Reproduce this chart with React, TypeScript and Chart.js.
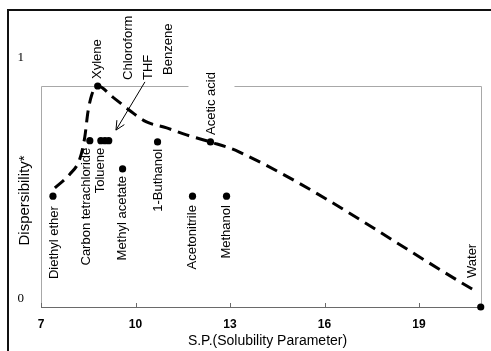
import React, { useEffect, useRef } from 'react';
import { Chart, registerables } from 'chart.js';

Chart.register(...registerables);

// ---- data ----
const SOLVENTS = [
  'Diethyl ether',
  'Carbon tetrachloride',
  'Xylene',
  'Toluene',
  'Chloroform',
  'THF',
  'Methyl acetate',
  '1-Buthanol',
  'Acetonitrile',
  'Acetic acid',
  'Methanol',
  'Water',
];
const SP_VALUES = [7.38, 8.55, 8.8, 8.9, 9.03, 9.15, 9.59, 10.7, 11.81, 12.38, 12.89, 20.96];
const DISPERSIBILITY = [0.46, 0.69, 0.917, 0.69, 0.69, 0.69, 0.573, 0.685, 0.46, 0.685, 0.46, 0];

// hand-drawn trend curve
const TREND_SP = [7.44, 7.92, 8.23, 8.39, 8.49, 8.61, 8.8, 9.28, 9.88, 10.35, 10.99, 11.62, 12.38, 13.3, 20.73];
const TREND_DISP = [0.494, 0.552, 0.614, 0.705, 0.809, 0.88, 0.917, 0.871, 0.809, 0.768, 0.743, 0.714, 0.685, 0.643, 0.071];

const X_TICKS = [7, 10, 13, 16, 19];
const Y_TICKS = [0, 1];
const X_TITLE = 'S.P.(Solubility Parameter)';
const Y_TITLE = 'Dispersibility*';
const ARROW_LABELS = ['Chloroform', 'THF', 'Benzene'];

// ---- styling / annotation placement ----
const SANS = '"Liberation Sans", Arial, sans-serif';
const SERIF = '"Liberation Serif", "Times New Roman", serif';
const LABEL_FONT = `13px ${SANS}`;
const FRAME_TOP = 0.917;

type Place = { pos: 'above' | 'below' | 'none'; dx?: number; dy?: number; box?: boolean };
const PLACEMENT: Record<string, Place> = {
  'Diethyl ether': { pos: 'below', dx: 1, dy: 3 },
  'Carbon tetrachloride': { pos: 'below', dx: -3 },
  Xylene: { pos: 'above', dx: 0 },
  Toluene: { pos: 'below', dx: 0 },
  Chloroform: { pos: 'none' },
  THF: { pos: 'none' },
  'Methyl acetate': { pos: 'below', dx: 0 },
  '1-Buthanol': { pos: 'below', dx: 1 },
  Acetonitrile: { pos: 'below', dx: 0, dy: 2 },
  'Acetic acid': { pos: 'above', dx: 1, box: true },
  Methanol: { pos: 'below', dx: 0, dy: 2 },
  Water: { pos: 'above', dx: -8, dy: -22 },
};
// arrow annotation anchors (data units)
const ARROW_LABEL_POS = [
  { x: 9.76, y: 0.942 },
  { x: 10.4, y: 0.942 },
  { x: 11.03, y: 0.963 },
];
const ARROW_FROM = { x: 10.3, y: 0.934 };
const ARROW_TO = { x: 9.38, y: 0.734 };

const GAP = 7;

function drawVText(ctx: CanvasRenderingContext2D, text: string, x: number, y: number, align: CanvasTextAlign) {
  ctx.save();
  ctx.translate(x, y);
  ctx.rotate(-Math.PI / 2);
  ctx.textAlign = align;
  ctx.textBaseline = 'middle';
  ctx.fillText(text, 0, 0);
  ctx.restore();
}

const framePlugin = {
  id: 'frameAndLabels',
  beforeDatasetsDraw(chart: any) {
    const { ctx, chartArea: ca, scales } = chart;
    const x = scales.x;
    const y = scales.y;
    ctx.save();
    // outer picture frame
    ctx.fillStyle = '#111';
    ctx.fillRect(7, 9, 2, chart.height - 9);
    ctx.fillRect(7, 9, chart.width - 7, 2);

    // gray plot frame
    const top = Math.round(y.getPixelForValue(FRAME_TOP)) + 0.5;
    ctx.strokeStyle = '#a8a8a8';
    ctx.lineWidth = 1;
    ctx.beginPath();
    ctx.moveTo(ca.left + 0.5, ca.bottom);
    ctx.lineTo(ca.left + 0.5, top);
    ctx.lineTo(ca.right - 0.5, top);
    ctx.lineTo(ca.right - 0.5, ca.bottom);
    ctx.stroke();

    // x axis line + inward tick marks
    ctx.strokeStyle = '#6a6a6a';
    ctx.beginPath();
    ctx.moveTo(ca.left, Math.round(ca.bottom) + 0.5);
    ctx.lineTo(ca.right, Math.round(ca.bottom) + 0.5);
    x.ticks.forEach((t: any) => {
      const px = Math.round(x.getPixelForValue(t.value)) + 0.5;
      ctx.moveTo(px, ca.bottom);
      ctx.lineTo(px, ca.bottom - 4);
    });
    ctx.stroke();

    // white text boxes behind boxed labels
    ctx.font = LABEL_FONT;
    SOLVENTS.forEach((name, i) => {
      const p = PLACEMENT[name];
      if (!p || !p.box) return;
      const px = x.getPixelForValue(SP_VALUES[i]) + (p.dx || 0);
      const py = y.getPixelForValue(DISPERSIBILITY[i]) + (p.dy || 0);
      const w = ctx.measureText(name).width;
      ctx.fillStyle = '#fff';
      ctx.fillRect(px - 23, py - GAP - w - 6, 46, w + 10);
    });
    ctx.restore();
  },
  afterDatasetsDraw(chart: any) {
    const { ctx, chartArea: ca, scales } = chart;
    const x = scales.x;
    const y = scales.y;
    ctx.save();
    ctx.fillStyle = '#000';
    ctx.font = LABEL_FONT;
    SOLVENTS.forEach((name, i) => {
      const p = PLACEMENT[name];
      if (!p || p.pos === 'none') return;
      const px = x.getPixelForValue(SP_VALUES[i]) + (p.dx || 0);
      const py = y.getPixelForValue(DISPERSIBILITY[i]) + (p.dy || 0);
      if (p.pos === 'below') drawVText(ctx, name, px, py + GAP, 'right');
      else drawVText(ctx, name, px, py - GAP, 'left');
    });
    // arrow annotation
    ARROW_LABELS.forEach((t, i) => {
      const a = ARROW_LABEL_POS[i];
      drawVText(ctx, t, x.getPixelForValue(a.x), y.getPixelForValue(a.y), 'left');
    });
    const x1 = x.getPixelForValue(ARROW_FROM.x);
    const y1 = y.getPixelForValue(ARROW_FROM.y);
    const x2 = x.getPixelForValue(ARROW_TO.x);
    const y2 = y.getPixelForValue(ARROW_TO.y);
    const ang = Math.atan2(y2 - y1, x2 - x1);
    ctx.strokeStyle = '#000';
    ctx.lineWidth = 1;
    ctx.beginPath();
    ctx.moveTo(x1, y1);
    ctx.lineTo(x2, y2);
    const hl = 10;
    for (const s of [-1, 1]) {
      ctx.moveTo(x2, y2);
      ctx.lineTo(x2 - hl * Math.cos(ang + s * 0.45), y2 - hl * Math.sin(ang + s * 0.45));
    }
    ctx.stroke();

    // axis titles
    ctx.font = `14px ${SANS}`;
    ctx.textAlign = 'center';
    ctx.textBaseline = 'middle';
    ctx.fillText(X_TITLE, (ca.left + ca.right) / 2 + 6, ca.bottom + 34);
    ctx.font = `15px ${SANS}`;
    drawVText(ctx, Y_TITLE, ca.left - 16, (ca.top + ca.bottom) / 2 + 14, 'center');
    ctx.restore();
  },
};

export default function App() {
  const canvasRef = useRef<HTMLCanvasElement | null>(null);

  useEffect(() => {
    const canvas = canvasRef.current;
    if (!canvas) return;
    const points = SP_VALUES.map((v, i) => ({ x: v, y: DISPERSIBILITY[i] }));
    const trend = TREND_SP.map((v, i) => ({ x: v, y: TREND_DISP[i] }));
    const chart = new Chart(canvas, {
      type: 'scatter',
      data: {
        datasets: [
          {
            label: 'Solvents',
            data: points,
            pointRadius: 3.6,
            pointBackgroundColor: '#000',
            pointBorderWidth: 0,
            backgroundColor: '#000',
            clip: false,
          } as any,
          {
            label: 'Trend',
            data: trend,
            showLine: true,
            pointRadius: 0,
            borderColor: '#000',
            borderWidth: 3,
            borderDash: [12, 7],
            cubicInterpolationMode: 'monotone',
            fill: false,
            clip: false,
          } as any,
        ],
      },
      options: {
        animation: false,
        responsive: false,
        events: [],
        layout: { padding: { top: 66, right: 9, left: 0, bottom: 0 } },
        plugins: { legend: { display: false }, tooltip: { enabled: false } },
        scales: {
          x: {
            type: 'linear',
            min: 7,
            max: 21,
            afterBuildTicks: (s: any) => {
              s.ticks = X_TICKS.map((v) => ({ value: v }));
            },
            afterFit: (s: any) => {
              s.height = 44;
            },
            grid: { display: false, drawTicks: false },
            border: { display: false },
            ticks: {
              padding: 10,
              color: '#000',
              autoSkip: false,
              maxRotation: 0,
              font: { family: SANS, size: 12, weight: 'bold' },
            },
          },
          y: {
            type: 'linear',
            min: 0,
            max: 1,
            afterBuildTicks: (s: any) => {
              s.ticks = Y_TICKS.map((v) => ({ value: v }));
            },
            afterFit: (s: any) => {
              s.width = 41;
            },
            grid: { display: false, drawTicks: false },
            border: { display: false },
            ticks: {
              padding: 17,
              labelOffset: -8,
              color: '#000',
              font: { family: SERIF, size: 13 },
            },
          },
        },
      },
      plugins: [framePlugin],
    });
    return () => chart.destroy();
  }, []);

  return (
    <div style={{ position: 'fixed', left: 0, top: 0, width: 491, height: 351, background: '#fff' }}>
      <canvas ref={canvasRef} width={491} height={351} style={{ display: 'block' }} />
    </div>
  );
}
